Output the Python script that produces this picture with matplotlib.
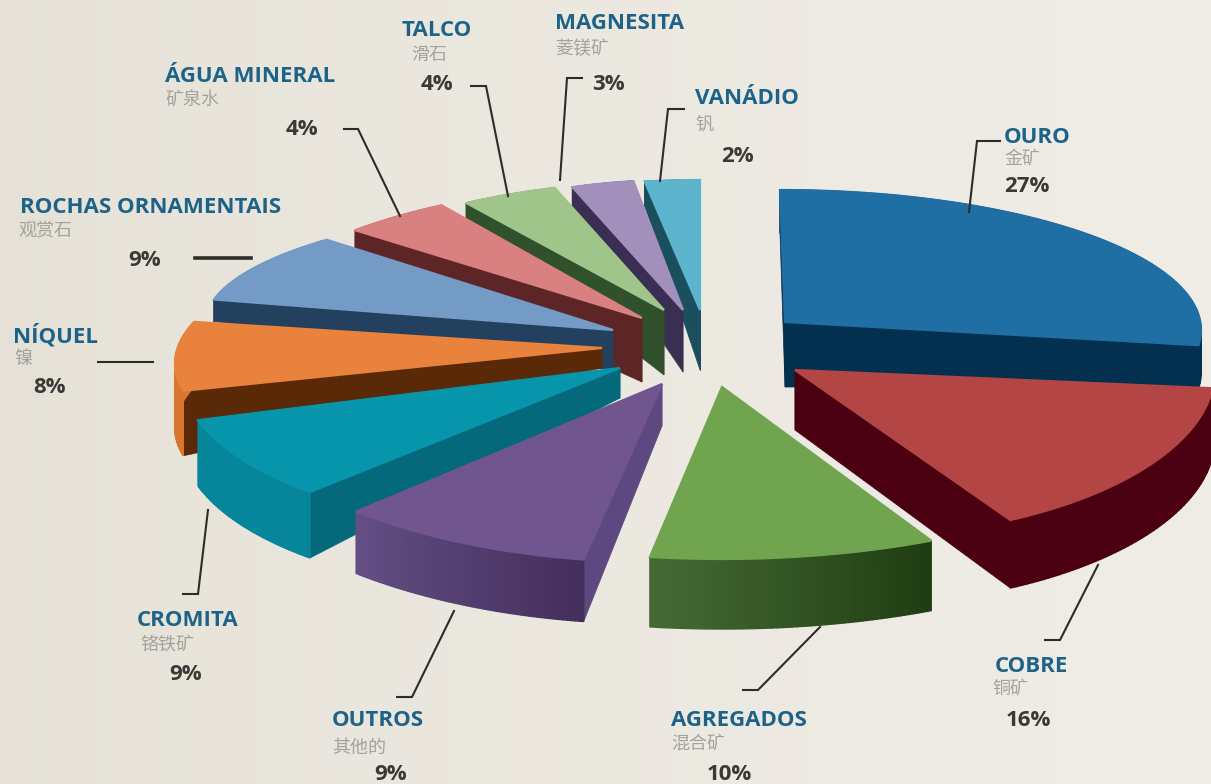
import numpy as np
import matplotlib
matplotlib.use("Agg")
import matplotlib.pyplot as plt
from matplotlib.colors import to_rgb

# values, clockwise from the top
names = ["OURO", "COBRE", "AGREGADOS", "OUTROS", "CROMITA", "NÍQUEL",
         "ROCHAS ORNAMENTAIS", "ÁGUA MINERAL", "TALCO", "MAGNESITA", "VANÁDIO"]
names_cn = ["金矿", "铜矿", "混合矿", "其他的", "铬铁矿", "镍", "观赏石", "矿泉水", "滑石", "菱镁矿", "钒"]
values = [27, 16, 10, 9, 9, 8, 9, 4, 4, 3, 2]

# slice geometry in pixels:
# ellipse x, ellipse y, radius x, radius y, wall at rim, tip x, tip y, wall at tip, skew
geom = [
    (780, 330, 421, 140, 43, 785, 322, 65, 0),
    (843, 370, 372, 168, 68, 795, 370, 60, 0),
    (722, 387, 465, 172, 70, 722, 387, 60, 0),
    (654, 356, 454, 206, 62, 662, 384, 42, 0),
    (554, 375, 372, 155, 66, 620, 368, 30, 0),
    (605, 350, 428, 140, 65, 602, 348, 20, -0.3),
    (645, 324, 440, 122, 22, 613, 330, 40, 0),
    (680, 340, 449, 159, 22, 642, 318, 64, 0),
    (675, 325, 393, 144, 19, 664, 310, 65, 0),
    (675, 330, 335, 150, 23, 683, 310, 62, 0),
    (700, 372, 445, 192, 25, 700, 310, 60, 0),
]
top_col = ["#1f6fa5", "#b34544", "#70a44e", "#71558f", "#0795ab", "#e8823c",
           "#739bc5", "#d98080", "#9fc58a", "#a28fbc", "#5cb4cd"]
wall_col = ["#02304e", "#4a0010", "#3f6430", "#5e4880", "#04697a", "#5a2a08",
            "#24405f", "#5e2526", "#31502c", "#3a2f52", "#1b4f5e"]
rim_a = ["#02304e", "#4a0010", "#1f3d12", "#432e5c", "#07859a", "#d8752f",
         "#24405f", "#5e2526", "#31502c", "#3a2f52", "#1b4f5e"]
rim_b = ["#02304e", "#4a0010", "#466a34", "#644f85", "#07859a", "#d8752f",
         "#24405f", "#5e2526", "#31502c", "#3a2f52", "#1b4f5e"]
draw_order = [10, 9, 8, 7, 6, 5, 0, 1, 4, 3, 2]

# label positions: (x, y) of name, chinese name, percent
name_pos = [(1004, 137), (995, 666), (671, 720), (332, 720), (137, 620), (13, 336),
            (20, 207), (165, 76), (402, 30), (555, 23), (695, 98)]
cn_pos = [(1004, 159), (992, 689), (671, 744), (332, 748), (140, 645), (14, 359),
          (18, 231), (165, 101), (411, 55), (555, 49), (695, 124)]
pct_pos = [(1004, 186), (1006, 720), (707, 774), (374, 774), (169, 674), (33, 387),
           (128, 260), (286, 129), (421, 84), (592, 84), (721, 156)]
leaders = [
    [(1000, 141), (977, 141), (969, 212)],
    [(1045, 640), (1060, 640), (1098, 565)],
    [(743, 690), (758, 690), (820, 627)],
    [(397, 697), (412, 697), (454, 611)],
    [(183, 594), (198, 594), (208, 510)],
    [(98, 362), (153, 362)],
    [(195, 258), (251, 258)],
    [(344, 129), (358, 129), (400, 216)],
    [(471, 86), (486, 86), (508, 196)],
    [(582, 78), (567, 78), (560, 180)],
    [(684, 109), (668, 109), (660, 181)],
]

fig = plt.figure(figsize=(12.11, 7.84), dpi=100)
ax = fig.add_axes([0, 0, 1, 1])
ax.set_xlim(0, 1211)
ax.set_ylim(784, 0)
ax.axis("off")

# background, a bit darker on the left
bg_l = np.array(to_rgb("#e5e1d6"))
bg_r = np.array(to_rgb("#f0ede7"))
s = np.linspace(0, 1, 256)[None, :, None] ** 0.7
ax.imshow(bg_l + (bg_r - bg_l) * s, extent=(0, 1211, 784, 0), aspect="auto", zorder=0)

cum = np.cumsum([0] + values) / sum(values) * 2 * np.pi

z = 1
for i in draw_order:
    cx, cy, rx, ry, h, tx, ty, ht, skew = geom[i]
    t = np.linspace(cum[i], cum[i + 1], 60)
    ys = cy - ry * np.cos(t)
    xs = cx + rx * np.sin(t) + skew * (ys - cy)
    # radial walls, taller towards the tip
    for ex, ey in [(xs[0], ys[0]), (xs[-1], ys[-1])]:
        ax.fill([tx, ex, ex, tx], [ty, ey, ey + h, ty + ht], color=wall_col[i], lw=0.5, zorder=z)
    z += 1
    # outer wall with a gradient along the rim
    c0 = np.array(to_rgb(rim_a[i]))
    c1 = np.array(to_rgb(rim_b[i]))
    for k in range(len(t) - 1):
        col = c0 + (c1 - c0) * k / (len(t) - 2)
        ax.fill([xs[k], xs[k + 1], xs[k + 1], xs[k]],
                [ys[k], ys[k + 1], ys[k + 1] + h, ys[k] + h], color=col, lw=1.0, zorder=z)
    z += 1
    # lw a bit wider than the rim so no dark line shows round the back
    ax.fill(np.r_[tx, xs], np.r_[ty, ys], color=top_col[i], lw=1.6, zorder=z)
    z += 1

for pts in leaders:
    p = np.array(pts)
    lw = 2.6 if pts[0] == (195, 258) else 1.5
    ax.plot(p[:, 0], p[:, 1], color="#2e2c28", lw=lw, zorder=z, solid_joinstyle="miter")

for i in range(len(names)):
    ax.text(name_pos[i][0], name_pos[i][1], names[i], family="Open Sans", weight="bold",
            fontsize=16, color="#1d6288", va="center", ha="left", zorder=z)
    ax.text(cn_pos[i][0], cn_pos[i][1], names_cn[i], family=["Noto Sans CJK SC", "DejaVu Sans"],
            fontsize=13, color="#a3a29c", va="center", ha="left", zorder=z)
    ax.text(pct_pos[i][0], pct_pos[i][1], f"{values[i]}%", family="Open Sans", weight="bold",
            fontsize=16, color="#3a3936", va="center", ha="left", zorder=z)

fig.savefig("out.png", dpi=100)
